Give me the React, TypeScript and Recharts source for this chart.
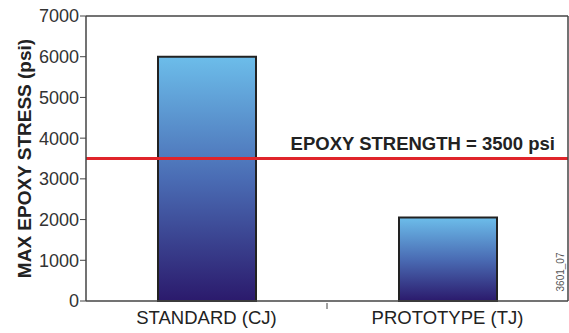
import { BarChart, Bar, XAxis, YAxis, ReferenceLine, Label } from "recharts"

const categories = ["STANDARD (CJ)", "PROTOTYPE (TJ)"]
const stress = [6000, 2050]
const yTicks = [0, 1000, 2000, 3000, 4000, 5000, 6000, 7000]
const epoxyStrength = 3500

const data = categories.map((name, i) => ({ name, stress: stress[i] }))

const font = "'Liberation Sans', Arial, sans-serif"

const XTick = (props: any) => {
  const { x, y, payload, index } = props
  return (
    <g>
      {index === 0 && (
        <line x1={x + payload.offset} x2={x + payload.offset} y1={y - 6} y2={y} stroke="#444" />
      )}
      <text x={x} y={y + 15} textAnchor="middle" fontSize={18.5} fill="#222" fontFamily={font}>
        {payload.value}
      </text>
    </g>
  )
}

const StrengthLabel = (props: any) => {
  const { viewBox } = props
  return (
    <text
      x={viewBox.x + viewBox.width - 13}
      y={viewBox.y - 9}
      textAnchor="end"
      fontSize={18.5}
      fontWeight="bold"
      fill="#222"
      fontFamily={font}
    >
      {`EPOXY STRENGTH = ${epoxyStrength} psi`}
    </text>
  )
}

export default function App() {
  return (
    <div style={{ position: "absolute", left: 0, top: 0, background: "#fff" }}>
      <BarChart width={569} height={333} data={data} margin={{ top: 16, right: 0, left: 0, bottom: 0 }}>
        <defs>
          <linearGradient id="barGrad" x1="0" y1="0" x2="0" y2="1">
            <stop offset="0%" stopColor="#6cbdea" />
            <stop offset="50%" stopColor="#4a6cb4" />
            <stop offset="100%" stopColor="#2b1a6c" />
          </linearGradient>
        </defs>
        <XAxis
          dataKey="name"
          height={32}
          tickLine={false}
          axisLine={{ stroke: "#444", strokeWidth: 1.5 }}
          tick={<XTick />}
        />
        <YAxis
          width={86}
          domain={[0, 7000]}
          ticks={yTicks}
          interval={0}
          tickSize={6}
          tickMargin={1}
          axisLine={{ stroke: "#444", strokeWidth: 1.5 }}
          tickLine={{ stroke: "#444" }}
          tick={{ fontSize: 18, fill: "#333", fontFamily: font }}
        >
          <Label
            value="MAX EPOXY STRESS (psi)"
            angle={-90}
            position="insideLeft"
            offset={24}
            style={{ textAnchor: "middle", fontSize: 19, fontWeight: "bold", fill: "#222", fontFamily: font }}
          />
        </YAxis>
        <YAxis
          yAxisId="frame"
          orientation="right"
          width={1}
          domain={[0, 7000]}
          tick={false}
          tickLine={false}
          axisLine={{ stroke: "#444", strokeWidth: 1.5 }}
        />
        <ReferenceLine y={7000} stroke="#444" strokeWidth={1.5} />
        <Bar
          dataKey="stress"
          barSize={98}
          fill="url(#barGrad)"
          stroke="#222"
          strokeWidth={2}
          isAnimationActive={false}
        />
        <ReferenceLine y={epoxyStrength} stroke="#e0242a" strokeWidth={3} label={<StrengthLabel />} />
      </BarChart>
      <div
        style={{
          position: "absolute",
          left: 561,
          top: 272,
          transform: "translate(-50%, -50%) rotate(-90deg)",
          fontSize: 10,
          lineHeight: "12px",
          color: "#555",
          fontFamily: font,
          whiteSpace: "nowrap",
        }}
      >
        3601_07
      </div>
    </div>
  )
}
